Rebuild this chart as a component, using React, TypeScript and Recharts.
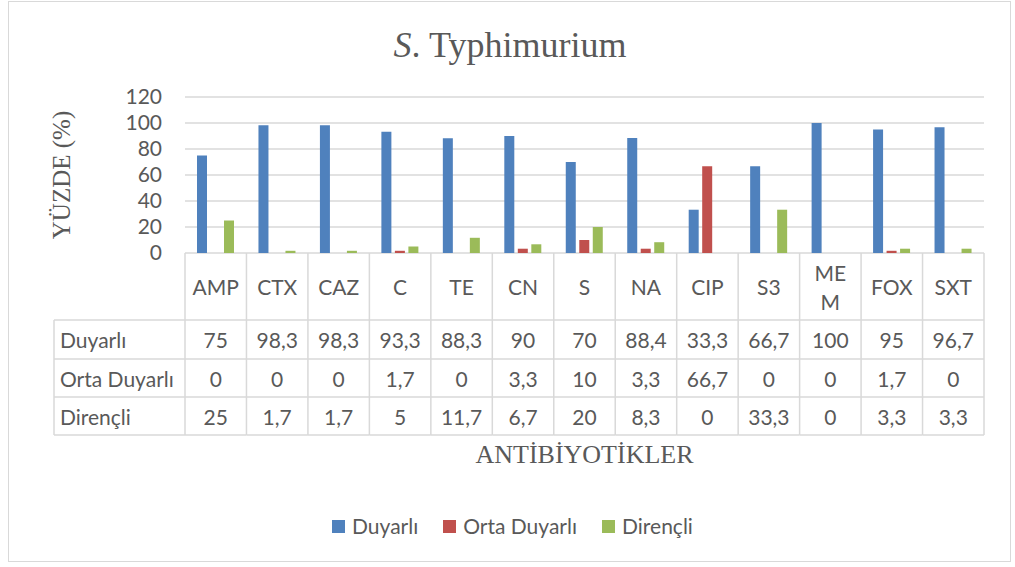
import { BarChart, Bar, XAxis, YAxis, CartesianGrid, Legend } from 'recharts'

const categories = ['AMP', 'CTX', 'CAZ', 'C', 'TE', 'CN', 'S', 'NA', 'CIP', 'S3', 'MEM', 'FOX', 'SXT']
const duyarli = [75, 98.3, 98.3, 93.3, 88.3, 90, 70, 88.4, 33.3, 66.7, 100, 95, 96.7]
const ortaDuyarli = [0, 0, 0, 1.7, 0, 3.3, 10, 3.3, 66.7, 0, 0, 1.7, 0]
const direncli = [25, 1.7, 1.7, 5, 11.7, 6.7, 20, 8.3, 0, 33.3, 0, 3.3, 3.3]
const yTicks = [0, 20, 40, 60, 80, 100, 120]

const seriesNames = ['Duyarlı', 'Orta Duyarlı', 'Dirençli']
const seriesColors = ['#4F81BD', '#C0504D', '#9BBB59']
// Excel wrapped this header cell onto two lines
const wrappedLabels: Record<string, string[]> = { MEM: ['ME', 'M'] }

const data = categories.map((name, i) => ({
  name,
  duyarli: duyarli[i],
  orta: ortaDuyarli[i],
  direncli: direncli[i],
}))
const rows = [duyarli, ortaDuyarli, direncli]

const W = 1015
const H = 567
const PLOT_LEFT = 185
const PLOT_RIGHT = 984
const PLOT_TOP = 97
const PLOT_BOTTOM = 253
const TABLE_BOTTOM = 435
const TABLE_LEFT = 54
const ROW_LINES = [320, 359, 397, 435]
const BAND = (PLOT_RIGHT - PLOT_LEFT) / categories.length

const TEXT = '#595959'
const LINE = '#D9D9D9'
const SANS = 'Lato, "Open Sans", sans-serif'
const SERIF = '"Liberation Serif", "Times New Roman", serif'
const FS = 21

const fmt = (v: number) => String(v).replace('.', ',')

function TableTick(props: any) {
  const { x, payload, index } = props
  const left = x - BAND / 2
  const right = x + BAND / 2
  const label: string = payload.value
  const lines = wrappedLabels[label] || [label]
  const headerMid = (PLOT_BOTTOM + ROW_LINES[0]) / 2
  return (
    <g>
      <line x1={left} x2={left} y1={PLOT_BOTTOM} y2={TABLE_BOTTOM} stroke={LINE} strokeWidth={1.5} />
      {index === categories.length - 1 && (
        <line x1={right} x2={right} y1={PLOT_BOTTOM} y2={TABLE_BOTTOM} stroke={LINE} strokeWidth={1.5} />
      )}
      {ROW_LINES.map((ly) => (
        <line key={ly} x1={left} x2={right} y1={ly} y2={ly} stroke={LINE} strokeWidth={1.5} />
      ))}
      {lines.map((t, li) => (
        <text
          key={li}
          x={x}
          y={headerMid + (li - (lines.length - 1) / 2) * 29}
          textAnchor="middle"
          dominantBaseline="central"
          fill={TEXT}
          fontSize={FS}
          fontFamily={SANS}
        >
          {t}
        </text>
      ))}
      {rows.map((r, ri) => (
        <text
          key={ri}
          x={x}
          y={(ROW_LINES[ri] + ROW_LINES[ri + 1]) / 2}
          textAnchor="middle"
          dominantBaseline="central"
          fill={TEXT}
          fontSize={FS}
          fontFamily={SANS}
        >
          {fmt(r[index])}
        </text>
      ))}
      {index === 0 && (
        <g>
          <line x1={TABLE_LEFT} x2={TABLE_LEFT} y1={ROW_LINES[0]} y2={TABLE_BOTTOM} stroke={LINE} strokeWidth={1.5} />
          {ROW_LINES.map((ly) => (
            <line key={ly} x1={TABLE_LEFT} x2={left} y1={ly} y2={ly} stroke={LINE} strokeWidth={1.5} />
          ))}
          {seriesNames.map((n, ri) => (
            <text
              key={n}
              x={TABLE_LEFT + 6}
              y={(ROW_LINES[ri] + ROW_LINES[ri + 1]) / 2}
              dominantBaseline="central"
              fill={TEXT}
              fontSize={FS}
              fontFamily={SANS}
            >
              {n}
            </text>
          ))}
        </g>
      )}
    </g>
  )
}

function YLabel(props: any) {
  const vb = props.viewBox || {}
  const cx = 61
  const cy = (vb.y ?? PLOT_TOP) + (vb.height ?? PLOT_BOTTOM - PLOT_TOP) / 2
  return (
    <text
      x={cx}
      y={cy}
      transform={`rotate(-90, ${cx}, ${cy})`}
      textAnchor="middle"
      dominantBaseline="central"
      fill={TEXT}
      fontSize={25}
      fontFamily={SERIF}
    >
      YÜZDE (%)
    </text>
  )
}

function LegendContent() {
  return (
    <div style={{ display: 'flex', alignItems: 'center', fontFamily: SANS, fontSize: FS, color: TEXT, lineHeight: '24px' }}>
      {seriesNames.map((n, i) => (
        <div key={n} style={{ display: 'flex', alignItems: 'center', marginRight: 25 }}>
          <span style={{ width: 13, height: 13, background: seriesColors[i], marginRight: 7, display: 'inline-block' }} />
          <span>{n}</span>
        </div>
      ))}
    </div>
  )
}

export default function App() {
  return (
    <div style={{ position: 'absolute', left: 0, top: 0, width: W, height: H, background: '#fff' }}>
      <div
        style={{
          position: 'absolute',
          left: 8,
          top: 1,
          width: 1003,
          height: 561,
          border: `1.5px solid ${LINE}`,
          boxSizing: 'border-box',
        }}
      />
      <div
        style={{
          position: 'absolute',
          left: 8,
          top: 25,
          width: 1004,
          textAlign: 'center',
          fontFamily: SERIF,
          fontSize: 36,
          lineHeight: '40px',
          color: TEXT,
        }}
      >
        <i>S</i>. Typhimurium
      </div>
      <BarChart
        width={W}
        height={H}
        data={data}
        margin={{ top: PLOT_TOP, right: W - PLOT_RIGHT, left: PLOT_LEFT - 60, bottom: H - TABLE_BOTTOM }}
        barGap={3.5}
        barSize={10}
      >
        <CartesianGrid vertical={false} stroke={LINE} strokeWidth={1.5} />
        <XAxis
          dataKey="name"
          interval={0}
          height={TABLE_BOTTOM - PLOT_BOTTOM}
          axisLine={false}
          tickLine={false}
          tick={<TableTick />}
          label={{
            value: 'ANTİBİYOTİKLER',
            position: 'bottom',
            offset: 10,
            fill: TEXT,
            fontSize: 26,
            fontFamily: SERIF,
          }}
        />
        <YAxis
          width={60}
          domain={[0, 120]}
          ticks={yTicks}
          interval={0}
          axisLine={false}
          tickLine={false}
          tickSize={0}
          tickMargin={23}
          tick={{ fill: TEXT, fontSize: FS, fontFamily: SANS }}
          label={<YLabel />}
        />
        <Legend
          layout="horizontal"
          verticalAlign="middle"
          align="center"
          content={<LegendContent />}
          wrapperStyle={{ top: 514, left: 332, width: 520 }}
        />
        <Bar dataKey="duyarli" name={seriesNames[0]} fill={seriesColors[0]} isAnimationActive={false} />
        <Bar dataKey="orta" name={seriesNames[1]} fill={seriesColors[1]} isAnimationActive={false} />
        <Bar dataKey="direncli" name={seriesNames[2]} fill={seriesColors[2]} isAnimationActive={false} />
      </BarChart>
    </div>
  )
}
